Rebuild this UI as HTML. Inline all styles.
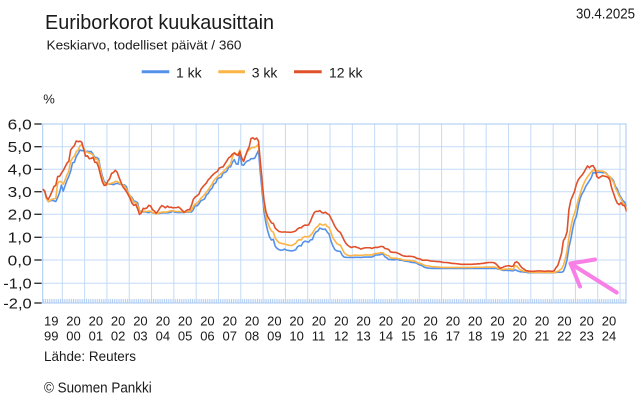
<!DOCTYPE html>
<html><head><meta charset="utf-8"><style>
html,body{margin:0;padding:0;background:#fff;}
svg{display:block;font-family:"Liberation Sans",Arial,sans-serif;}
</style></head><body>
<svg id="c" width="642" height="405" viewBox="0 0 642 405" xmlns="http://www.w3.org/2000/svg">
<rect width="642" height="405" fill="#fff"/>
<text x="45" y="29" font-size="20" fill="#1a1a1a" textLength="229" lengthAdjust="spacingAndGlyphs">Euriborkorot kuukausittain</text>
<text x="46.5" y="49.3" font-size="13" fill="#1a1a1a" textLength="195" lengthAdjust="spacingAndGlyphs">Keskiarvo, todelliset päivät / 360</text>
<text x="576" y="18.3" font-size="15" fill="#1a1a1a" textLength="59" lengthAdjust="spacingAndGlyphs">30.4.2025</text>

<line x1="141.7" y1="71.7" x2="169.3" y2="71.7" stroke="#5591ea" stroke-width="3"/>
<text x="176" y="77.3" font-size="14" fill="#1a1a1a">1 kk</text>
<line x1="218.3" y1="71.7" x2="245" y2="71.7" stroke="#fbb445" stroke-width="3"/>
<text x="251.7" y="77.3" font-size="14" fill="#1a1a1a">3 kk</text>
<line x1="294" y1="71.7" x2="321.7" y2="71.7" stroke="#e0502a" stroke-width="3"/>
<text x="329" y="77.3" font-size="14" fill="#1a1a1a">12 kk</text>

<text x="43.3" y="103.3" font-size="13" fill="#1a1a1a">%</text>

<g id="grid" stroke="#c4dbf7" stroke-width="1" fill="none"></g>
<g id="minor" stroke="#b3cff3" stroke-width="1"></g>
<rect x="42.7" y="124" width="583.3" height="179" fill="none" stroke="#a9c9f2" stroke-width="1"/>

<g stroke="#333" stroke-width="1.4">
<line x1="34.3" y1="124" x2="41.7" y2="124"/>
<line x1="34.3" y1="146.7" x2="41.7" y2="146.7"/>
<line x1="34.3" y1="169.3" x2="41.7" y2="169.3"/>
<line x1="34.3" y1="191.7" x2="41.7" y2="191.7"/>
<line x1="34.3" y1="214.3" x2="41.7" y2="214.3"/>
<line x1="34.3" y1="237.3" x2="41.7" y2="237.3"/>
<line x1="34.3" y1="260" x2="41.7" y2="260"/>
<line x1="34.3" y1="283.3" x2="41.7" y2="283.3"/>
<line x1="34.3" y1="303" x2="41.7" y2="303"/>
</g>
<g font-size="15" fill="#1a1a1a">
<text x="7.7" y="129.3" textLength="24" lengthAdjust="spacingAndGlyphs">6,0</text>
<text x="7.7" y="152" textLength="24" lengthAdjust="spacingAndGlyphs">5,0</text>
<text x="7.7" y="174.6" textLength="24" lengthAdjust="spacingAndGlyphs">4,0</text>
<text x="7.7" y="197" textLength="24" lengthAdjust="spacingAndGlyphs">3,0</text>
<text x="7.7" y="219.6" textLength="24" lengthAdjust="spacingAndGlyphs">2,0</text>
<text x="7.7" y="242.6" textLength="24" lengthAdjust="spacingAndGlyphs">1,0</text>
<text x="7.7" y="265.3" textLength="24" lengthAdjust="spacingAndGlyphs">0,0</text>
<text x="3.3" y="288.6" textLength="28.4" lengthAdjust="spacingAndGlyphs">-1,0</text>
<text x="3.3" y="308.3" textLength="28.4" lengthAdjust="spacingAndGlyphs">-2,0</text>
</g>

<g font-size="13" fill="#1a1a1a">
<text x="44" y="325.5">19</text><text x="44" y="340.5">99</text>
<text x="66.3" y="325.5">20</text><text x="66.3" y="340.5">00</text>
<text x="88.6" y="325.5">20</text><text x="88.6" y="340.5">01</text>
<text x="110.9" y="325.5">20</text><text x="110.9" y="340.5">02</text>
<text x="133.2" y="325.5">20</text><text x="133.2" y="340.5">03</text>
<text x="155.6" y="325.5">20</text><text x="155.6" y="340.5">04</text>
<text x="177.9" y="325.5">20</text><text x="177.9" y="340.5">05</text>
<text x="200.2" y="325.5">20</text><text x="200.2" y="340.5">06</text>
<text x="222.5" y="325.5">20</text><text x="222.5" y="340.5">07</text>
<text x="244.8" y="325.5">20</text><text x="244.8" y="340.5">08</text>
<text x="267.1" y="325.5">20</text><text x="267.1" y="340.5">09</text>
<text x="289.4" y="325.5">20</text><text x="289.4" y="340.5">10</text>
<text x="311.7" y="325.5">20</text><text x="311.7" y="340.5">11</text>
<text x="334" y="325.5">20</text><text x="334" y="340.5">12</text>
<text x="356.3" y="325.5">20</text><text x="356.3" y="340.5">13</text>
<text x="378.7" y="325.5">20</text><text x="378.7" y="340.5">14</text>
<text x="401" y="325.5">20</text><text x="401" y="340.5">15</text>
<text x="423.3" y="325.5">20</text><text x="423.3" y="340.5">16</text>
<text x="445.6" y="325.5">20</text><text x="445.6" y="340.5">17</text>
<text x="467.9" y="325.5">20</text><text x="467.9" y="340.5">18</text>
<text x="490.2" y="325.5">20</text><text x="490.2" y="340.5">19</text>
<text x="512.5" y="325.5">20</text><text x="512.5" y="340.5">20</text>
<text x="534.8" y="325.5">20</text><text x="534.8" y="340.5">21</text>
<text x="557.1" y="325.5">20</text><text x="557.1" y="340.5">22</text>
<text x="579.4" y="325.5">20</text><text x="579.4" y="340.5">23</text>
<text x="601.8" y="325.5">20</text><text x="601.8" y="340.5">24</text>
</g>

<text x="44" y="361" font-size="13.5" fill="#1a1a1a" textLength="92" lengthAdjust="spacingAndGlyphs">Lähde: Reuters</text>
<text x="44" y="392.7" font-size="14.5" fill="#1a1a1a" textLength="107.7" lengthAdjust="spacingAndGlyphs">© Suomen Pankki</text>

<defs><clipPath id="pc"><rect x="42.7" y="118" width="584" height="186"/></clipPath></defs>
<g id="series" clip-path="url(#pc)" fill="none" stroke-width="1.6" stroke-linejoin="round"></g>

<g stroke="#f77fe6" stroke-width="4" stroke-linecap="round" fill="none">
<line x1="570.5" y1="263.5" x2="616.7" y2="292.5"/>
<line x1="570.5" y1="263.5" x2="595" y2="259.5"/>
<line x1="570.5" y1="263.5" x2="580" y2="286.5"/>
</g>
</svg>
<script>
(function(){
var NS="http://www.w3.org/2000/svg";
function el(n,a,p){var e=document.createElementNS(NS,n);for(var k in a)e.setAttribute(k,a[k]);p.appendChild(e);return e;}
var grid=document.getElementById("grid");
var hy=[146.7,169.3,191.7,214.3,237.3,260,283.3];
hy.forEach(function(y){el("line",{x1:42.7,y1:y,x2:626,y2:y},grid);});
for(var k=0;k<26;k++){var x=62.3+k*22.31;el("line",{x1:x,y1:124,x2:x,y2:303},grid);}
var minor=document.getElementById("minor");
var d="";
for(var i=2;i<316;i++){var x=40+i*1.8592;if(x>626)break;d+="M"+x.toFixed(2)+" 299V303";}
el("path",{d:d},minor);
function R(v,n){var a=[];for(var i=0;i<n;i++)a.push(v);return a;}
var m1=[].concat(
[3.14,3.11,3.05,2.70,2.57,2.61,2.63,2.61,2.58,2.76,2.97,3.30],
[3.04,3.28,3.51,3.69,3.92,4.29,4.31,4.57,4.70,4.85,4.82,4.83],
[4.77,4.80,4.78,4.79,4.67,4.53,4.52,4.46,4.05,3.72,3.46,3.39],
[3.35,3.34,3.35,3.32,3.36,3.38,3.36,3.33,3.32,3.31,3.23,2.94],
[2.83,2.76,2.60,2.58,2.52,2.18,2.13,2.12,2.13,2.10,2.09,2.13],
[2.08,2.06,2.04,2.05,2.06,2.08,2.08,2.08,2.08,2.09,2.11,2.17],
[2.11,2.10,2.10,2.10,2.10,2.10,2.11,2.11,2.12,2.12,2.22,2.41],
[2.39,2.48,2.61,2.65,2.69,2.87,2.94,3.09,3.16,3.35,3.40,3.59],
[3.62,3.65,3.84,3.86,3.92,4.10,4.11,4.31,4.43,4.24,4.22,4.71],
[4.20,4.18,4.30,4.37,4.39,4.47,4.47,4.49,4.66,4.83,3.84,2.99],
[2.14,1.63,1.27,1.01,0.88,0.91,0.61,0.51,0.46,0.43,0.44,0.48],
[0.44,0.42,0.41,0.40,0.42,0.45,0.58,0.64,0.62,0.78,0.83,0.81],
[0.79,0.89,0.90,1.13,1.24,1.28,1.41,1.37,1.35,1.36,1.23,1.14],
[0.84,0.63,0.47,0.41,0.39,0.38,0.22,0.13,0.12,0.11,0.11,0.11],
[0.11,0.12,0.12,0.12,0.11,0.12,0.13,0.13,0.13,0.13,0.13,0.17],
[0.22,0.22,0.23,0.25,0.26,0.14,0.10,0.02,0.02,0.01,0.01,0.02],
[0.02,-0.01,-0.01,-0.03,-0.05,-0.06,-0.07,-0.10,-0.11,-0.12,-0.13,-0.19],
[-0.22,-0.25,-0.31,-0.34,-0.35,-0.36,-0.37,-0.37,-0.37,-0.37,-0.37,-0.37],
R(-0.37,12),R(-0.37,12),
[-0.37,-0.37,-0.37,-0.37,-0.37,-0.38,-0.40,-0.41,-0.45,-0.46,-0.45,-0.46],
[-0.46,-0.47,-0.48,-0.43,-0.47,-0.50,-0.52,-0.52,-0.53,-0.54,-0.56,-0.56],
R(-0.56,12),
[-0.56,-0.55,-0.54,-0.54,-0.54,-0.51,-0.30,0.02,0.56,0.92,1.37,1.73],
[1.92,2.36,2.71,2.91,3.05,3.24,3.37,3.50,3.63,3.86,3.84,3.86],
[3.87,3.87,3.85,3.85,3.84,3.73,3.63,3.60,3.49,3.24,3.14,2.89],
[2.76,2.62,2.55,2.35]);
var m3=[].concat(
[3.13,3.09,3.05,2.70,2.58,2.63,2.68,2.70,2.73,3.38,3.47,3.44],
[3.34,3.54,3.75,3.93,4.36,4.50,4.58,4.78,4.85,5.04,5.09,4.94],
[4.77,4.76,4.71,4.69,4.64,4.45,4.47,4.35,3.98,3.60,3.39,3.34],
[3.34,3.36,3.39,3.41,3.47,3.46,3.41,3.35,3.31,3.26,3.12,2.94],
[2.83,2.69,2.53,2.54,2.41,2.15,2.13,2.14,2.15,2.14,2.16,2.15],
[2.09,2.07,2.03,2.05,2.09,2.11,2.12,2.11,2.12,2.15,2.17,2.17],
[2.15,2.14,2.14,2.14,2.13,2.11,2.12,2.13,2.14,2.20,2.36,2.47],
[2.51,2.60,2.72,2.79,2.89,2.99,3.10,3.23,3.34,3.50,3.60,3.68],
[3.75,3.82,3.89,3.98,4.07,4.15,4.22,4.54,4.74,4.69,4.64,4.85],
[4.48,4.36,4.60,4.78,4.86,4.94,4.96,4.97,5.02,5.11,4.24,3.29],
[2.46,1.94,1.64,1.42,1.28,1.23,0.97,0.86,0.77,0.74,0.72,0.71],
[0.68,0.66,0.64,0.64,0.69,0.73,0.85,0.90,0.88,1.00,1.04,1.02],
[1.02,1.09,1.18,1.32,1.43,1.49,1.60,1.55,1.54,1.58,1.48,1.43],
[1.22,0.98,0.86,0.74,0.68,0.66,0.50,0.33,0.25,0.21,0.19,0.19],
[0.20,0.22,0.21,0.21,0.20,0.21,0.22,0.23,0.22,0.23,0.22,0.27],
[0.29,0.29,0.31,0.33,0.32,0.24,0.21,0.19,0.10,0.08,0.08,0.08],
[0.06,0.05,0.03,0.00,-0.01,-0.01,-0.02,-0.03,-0.04,-0.05,-0.09,-0.13],
[-0.15,-0.18,-0.23,-0.25,-0.26,-0.27,-0.29,-0.30,-0.30,-0.31,-0.31,-0.32],
R(-0.33,12),
[-0.33,-0.33,-0.33,-0.33,-0.33,-0.32,-0.32,-0.32,-0.32,-0.32,-0.32,-0.31],
[-0.31,-0.31,-0.31,-0.31,-0.31,-0.33,-0.37,-0.41,-0.42,-0.41,-0.40,-0.40],
[-0.39,-0.41,-0.42,-0.25,-0.27,-0.38,-0.44,-0.48,-0.49,-0.51,-0.52,-0.54],
R(-0.55,12),
[-0.56,-0.53,-0.50,-0.45,-0.39,-0.24,0.04,0.40,1.01,1.43,1.83,2.06],
[2.34,2.64,2.91,3.17,3.37,3.54,3.67,3.78,3.88,3.97,3.97,3.94],
[3.93,3.92,3.92,3.89,3.81,3.72,3.68,3.55,3.43,3.17,3.01,2.82],
[2.70,2.52,2.44,2.25]);
var m12=[].concat(
[3.14,3.12,3.05,2.76,2.68,2.84,3.03,3.24,3.30,3.68,3.69,3.83],
[3.95,4.11,4.27,4.36,4.85,4.96,5.05,5.25,5.22,5.24,5.19,4.88],
[4.58,4.60,4.47,4.48,4.53,4.31,4.31,4.10,3.77,3.46,3.29,3.30],
[3.48,3.59,3.82,3.86,3.96,3.87,3.64,3.44,3.24,3.13,3.02,2.87],
[2.71,2.50,2.41,2.45,2.26,2.01,2.08,2.28,2.26,2.30,2.41,2.38],
[2.22,2.16,2.06,2.16,2.30,2.40,2.36,2.30,2.38,2.32,2.33,2.30],
[2.31,2.31,2.34,2.27,2.19,2.10,2.17,2.22,2.22,2.41,2.68,2.78],
[2.83,2.91,3.11,3.22,3.31,3.40,3.54,3.62,3.72,3.80,3.86,3.92],
[4.06,4.09,4.11,4.25,4.37,4.51,4.56,4.67,4.72,4.65,4.61,4.79],
[4.50,4.35,4.59,4.82,4.99,5.36,5.39,5.32,5.38,5.25,4.35,3.45],
[2.62,2.14,1.91,1.77,1.64,1.61,1.41,1.33,1.26,1.24,1.23,1.24],
[1.23,1.23,1.22,1.23,1.25,1.28,1.37,1.42,1.42,1.50,1.54,1.53],
[1.55,1.71,1.92,2.09,2.15,2.14,2.18,2.10,2.07,2.11,2.04,2.00],
[1.84,1.68,1.50,1.37,1.27,1.22,1.06,0.88,0.74,0.65,0.59,0.55],
[0.58,0.59,0.55,0.53,0.48,0.51,0.53,0.54,0.54,0.54,0.51,0.54],
[0.56,0.55,0.58,0.60,0.59,0.51,0.49,0.47,0.36,0.34,0.34,0.33],
[0.30,0.26,0.21,0.18,0.17,0.16,0.17,0.16,0.15,0.13,0.08,0.06],
[0.04,-0.01,-0.01,-0.01,-0.01,-0.03,-0.05,-0.05,-0.06,-0.07,-0.07,-0.08],
[-0.10,-0.11,-0.11,-0.12,-0.13,-0.15,-0.15,-0.16,-0.17,-0.18,-0.19,-0.19],
[-0.19,-0.19,-0.19,-0.19,-0.19,-0.18,-0.18,-0.17,-0.17,-0.15,-0.15,-0.13],
[-0.12,-0.11,-0.11,-0.11,-0.13,-0.19,-0.28,-0.36,-0.34,-0.30,-0.27,-0.26],
[-0.25,-0.29,-0.27,-0.11,-0.08,-0.15,-0.28,-0.36,-0.41,-0.47,-0.48,-0.50],
[-0.50,-0.50,-0.49,-0.48,-0.48,-0.48,-0.49,-0.50,-0.49,-0.48,-0.49,-0.50],
[-0.48,-0.34,-0.24,0.01,0.29,0.85,0.99,1.25,2.23,2.63,2.83,3.02],
[3.34,3.53,3.65,3.74,3.86,4.01,4.15,4.07,4.15,4.16,4.02,3.68],
[3.61,3.67,3.72,3.70,3.68,3.65,3.53,3.17,2.94,2.69,2.51,2.44],
[2.52,2.41,2.40,2.14]);
var g=document.getElementById("series");
function line(arr,col){
  var pts=[];
  for(var i=0;i<arr.length;i++){
    var x=40+(i+0.5)*1.8592, y=260-arr[i]*22.67;
    pts.push(x.toFixed(2)+","+y.toFixed(2));
  }
  el("polyline",{points:pts.join(" "),stroke:col},g);
}
line(m1,"#5591ea");
line(m3,"#fbb445");
line(m12,"#e0502a");
})();
</script>
</body></html>
